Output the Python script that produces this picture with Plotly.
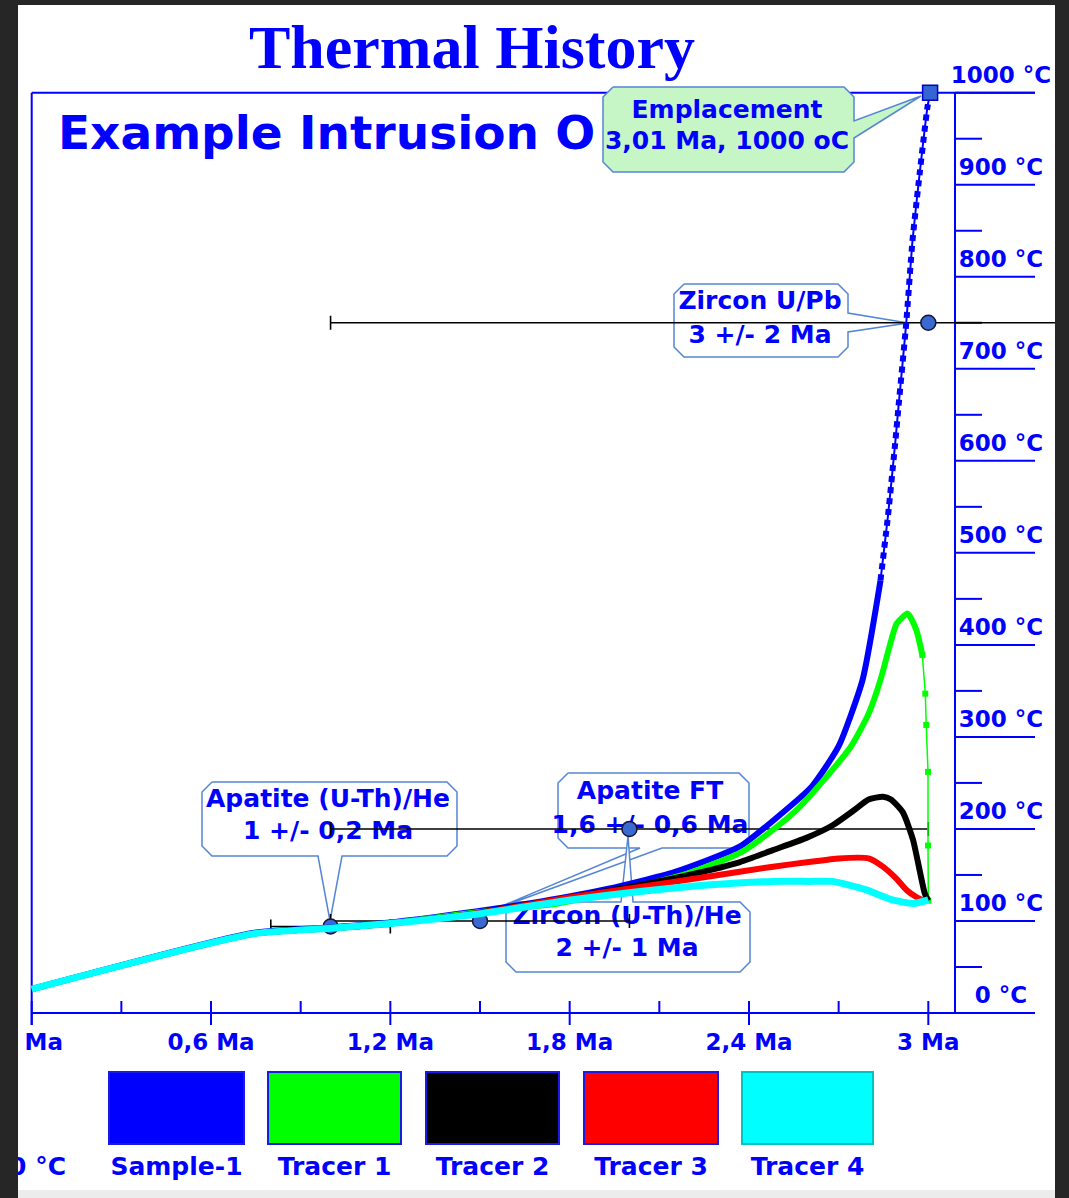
import plotly.graph_objects as go

# ---------------- data ----------------
blue_t = [0.00, 0.74, 1.00, 1.19, 1.48, 1.70, 1.93, 2.15, 2.37, 2.51, 2.61, 2.70, 2.78, 2.84,
          2.865, 2.89, 2.90, 2.926, 2.947, 2.971, 2.997, 3.006]
blue_T = [26, 87, 93, 98, 110, 121, 135, 153, 181, 217, 246, 290, 362, 470,
          540, 622, 658, 749, 839, 912, 984, 1000]

green_t = [0.00, 0.74, 1.00, 1.19, 1.48, 1.76, 1.98, 2.20, 2.37, 2.48, 2.57, 2.65, 2.74, 2.80,
           2.84, 2.87, 2.894, 2.931, 2.96, 2.98, 2.99, 2.993, 2.999, 2.999, 3.00]
green_T = [26, 86, 92, 97, 109, 119, 134, 152, 174, 199, 224, 253, 289, 325,
           362, 398, 423, 434, 416, 389, 347, 313, 262, 182, 122]

black_t = [0.00, 0.74, 1.00, 1.19, 1.48, 1.59, 1.81, 2.035, 2.20, 2.37, 2.48, 2.59, 2.68, 2.75,
           2.80, 2.848, 2.875, 2.915, 2.949, 2.971, 2.988, 3.00]
black_T = [26, 86, 92, 97, 108, 114, 126, 139, 150, 164, 177, 190, 204, 220,
           232, 235, 232, 218, 188, 155, 130, 122]

red_t = [0.00, 0.74, 1.00, 1.19, 1.48, 1.81, 2.035, 2.26, 2.48, 2.60, 2.70, 2.80, 2.848,
         2.893, 2.926, 2.96, 2.99]
red_T = [26, 86, 92, 97, 108, 126, 137, 148, 159, 164, 168, 168, 159,
         146, 134, 126, 121]

cyan_t = [0.00, 0.74, 1.00, 1.19, 1.48, 1.81, 2.035, 2.26, 2.48, 2.60, 2.68, 2.79, 2.88, 2.95, 3.00]
cyan_T = [26, 86, 92, 97, 107, 123, 132, 139, 143, 143, 143, 134, 123, 119, 123]

# thermochronology constraints: Zircon U/Pb, Apatite (U-Th)/He, Apatite FT, Zircon (U-Th)/He
constraint_age = [3.0, 1.0, 1.5, 2.0]
constraint_err = [2.0, 0.2, 0.5, 1.0]
constraint_T = [750, 94, 100, 200]

emplacement_t = [3.006]
emplacement_T = [1000]

x_major = [0.0, 0.6, 1.2, 1.8, 2.4, 3.0]
x_major_labels = ["0 Ma", "0,6 Ma", "1,2 Ma", "1,8 Ma", "2,4 Ma", "3 Ma"]
x_minor = [0.3, 0.9, 1.5, 2.1, 2.7]

y_major = [0, 100, 200, 300, 400, 500, 600, 700, 800, 900, 1000]
y_major_labels = ["0 °C", "100 °C", "200 °C", "300 °C", "400 °C", "500 °C",
                  "600 °C", "700 °C", "800 °C", "900 °C", "1000 °C"]
y_minor = [50, 150, 250, 350, 450, 550, 650, 750, 850, 950]

legend_names = ["Sample-1", "Tracer 1", "Tracer 2", "Tracer 3", "Tracer 4"]
legend_colors = ["#0000ff", "#00ff00", "#000000", "#ff0000", "#00ffff"]

# ---------------- geometry (pixel layout) ----------------
W, H = 1069, 1198
ML, MR, MT, MB = 18, 14, 5, 8
PX0, PX_PER_MA = 31.7, 298.87      # pixel of 0 Ma, pixels per Ma
PY0, PY_PER_C = 1013.0, 0.9203     # pixel of 0 °C, pixels per °C


def X(px):
    return (px - PX0) / PX_PER_MA


def Y(py):
    return (PY0 - py) / PY_PER_C


BLUE = "#0000ff"
TXT = "#0000ff"
BORDER = "#5585d5"
FONT = "DejaVu Sans"

fig = go.Figure()


def text_trace(xs, ys, texts, size, pos="middle center", family=FONT, weight="bold", color=TXT):
    fig.add_trace(go.Scatter(
        x=xs, y=ys, text=texts, mode="text", textposition=pos,
        textfont=dict(family=family, size=size, color=color, weight=weight),
        hoverinfo="skip", showlegend=False, cliponaxis=True))


def callout(L, T, R, B, side, b0, b1, tip, fill, c=10):
    pts = [(L + c, T)]
    if side == "top":
        pts += [(b0, T), tip, (b1, T)]
    pts += [(R - c, T), (R, T + c)]
    if side == "right":
        pts += [(R, b0), tip, (R, b1)]
    pts += [(R, B - c), (R - c, B)]
    if side == "bottom":
        pts += [(b1, B), tip, (b0, B)]
    pts += [(L + c, B), (L, B - c), (L, T + c), (L + c, T)]
    fig.add_trace(go.Scatter(
        x=[X(p[0]) for p in pts], y=[Y(p[1]) for p in pts], mode="lines",
        fill="toself", fillcolor=fill, line=dict(color=BORDER, width=1.5),
        hoverinfo="skip", showlegend=False))


# title and big subtitle (under the callouts)
text_trace([X(472)], [Y(52)], ["Thermal History"], 62, family="Liberation Serif", weight="bold")
text_trace([X(58)], [Y(137)], ["Example Intrusion O"], 47, pos="middle right")

# callout boxes
callout(603, 87, 854, 172, "right", 121, 138, (921, 96), "#c6f6c6")
callout(674, 284, 848, 357, "right", 313, 332, (908, 323), "white")
callout(202, 782, 457, 856, "bottom", 318, 342, (330, 921), "white")
callout(558, 773, 749, 848, "bottom", 640, 662, (490, 911), "white")
callout(506, 902, 750, 972, "top", 621, 633, (628, 836), "white")

# callout texts
cx = [727, 727, 760, 760, 328, 328, 650, 650, 627, 627]
cy = [112, 143, 303, 337, 801, 833, 793, 827, 918, 950]
ctexts = ["Emplacement", "3,01 Ma, 1000 oC", "Zircon U/Pb", "3 +/- 2 Ma",
          "Apatite (U-Th)/He", "1 +/- 0,2 Ma", "Apatite FT", "1,6 +/- 0,6 Ma",
          "Zircon (U-Th)/He", "2 +/- 1 Ma"]
text_trace([X(v) for v in cx], [Y(v) for v in cy], ctexts, 25)

# axis labels
text_trace(x_major, [Y(1044)] * len(x_major), x_major_labels, 23)
text_trace([X(1001)] * len(y_major), [v + 15.5 / PY_PER_C for v in y_major], y_major_labels, 23)

# legend
sq_x0 = [109, 268, 426, 584, 742]
sq_x1 = [244, 401, 559, 718, 873]
text_trace([X((a + b) / 2) for a, b in zip(sq_x0, sq_x1)], [Y(1169)] * 5, legend_names, 25)
text_trace([X(66)], [Y(1169)], ["0 °C"], 25, pos="middle left")

# constraint error bars and dots
fig.add_trace(go.Scatter(
    x=constraint_age, y=constraint_T, mode="markers",
    marker=dict(size=15, color="#3a6ad0", line=dict(color="#15153a", width=1.5)),
    error_x=dict(type="data", array=constraint_err, symmetric=True,
                 color="#000000", thickness=1.6, width=7),
    hoverinfo="skip", showlegend=False, cliponaxis=True))

SM = 0.55
BLUE_SPLIT = 13
GREEN_SPLIT = 19

# blue
fig.add_trace(go.Scatter(x=blue_t[:BLUE_SPLIT + 1], y=blue_T[:BLUE_SPLIT + 1], mode="lines",
                         line=dict(color=BLUE, width=6, shape="spline", smoothing=SM),
                         hoverinfo="skip", showlegend=False))
fig.add_trace(go.Scatter(x=blue_t[BLUE_SPLIT:], y=blue_T[BLUE_SPLIT:], mode="lines",
                         line=dict(color=BLUE, width=2, shape="spline", smoothing=SM),
                         hoverinfo="skip", showlegend=False))
fig.add_trace(go.Scatter(x=blue_t[BLUE_SPLIT:], y=blue_T[BLUE_SPLIT:], mode="lines",
                         line=dict(color=BLUE, width=6, shape="spline", smoothing=SM, dash="6px,5px"),
                         hoverinfo="skip", showlegend=False))
# green
fig.add_trace(go.Scatter(x=green_t[:GREEN_SPLIT + 1], y=green_T[:GREEN_SPLIT + 1], mode="lines",
                         line=dict(color="#00ff00", width=6, shape="spline", smoothing=SM),
                         hoverinfo="skip", showlegend=False))
fig.add_trace(go.Scatter(x=green_t[GREEN_SPLIT:], y=green_T[GREEN_SPLIT:], mode="lines+markers",
                         line=dict(color="#00ff00", width=1.5),
                         marker=dict(symbol="square", size=6, color="#00ff00"),
                         hoverinfo="skip", showlegend=False))
# black, red, cyan
for tt, TT, col, w in [(black_t, black_T, "#000000", 6), (red_t, red_T, "#ff0000", 6),
                       (cyan_t, cyan_T, "#00ffff", 7)]:
    fig.add_trace(go.Scatter(x=tt, y=TT, mode="lines",
                             line=dict(color=col, width=w, shape="spline", smoothing=SM),
                             hoverinfo="skip", showlegend=False))

# emplacement marker
fig.add_trace(go.Scatter(x=emplacement_t, y=emplacement_T, mode="markers",
                         marker=dict(symbol="square", size=15, color="#3565d2",
                                     line=dict(color="#0000c8", width=1.5)),
                         hoverinfo="skip", showlegend=False, cliponaxis=False))

# ---------------- frame, axes, ticks (drawn below traces) ----------------
shapes = []


def seg(x0, y0, x1, y1, color=BLUE, width=2):
    shapes.append(dict(type="line", xref="x", yref="y", x0=x0, y0=y0, x1=x1, y1=y1,
                       line=dict(color=color, width=width), layer="below"))


x_right_axis = X(955)
x_long = X(1035)
x_short = X(982)
seg(0, Y(PY0 + 12), 0, 1000)              # left frame
seg(0, 1000, x_long, 1000)                # top frame
seg(0, 0, x_long, 0)                      # bottom axis
seg(x_right_axis, 0, x_right_axis, 1000)  # right temperature axis
for v in x_major:
    seg(v, Y(PY0 + 12), v, Y(PY0 - 12))
for v in x_minor:
    seg(v, 0, v, Y(PY0 - 12))
for v in y_major:
    seg(x_right_axis, v, x_long, v)
for v in y_minor:
    seg(x_right_axis, v, x_short, v)

# legend swatches
for a, b, col in zip(sq_x0, sq_x1, legend_colors):
    edge = "#00c4c4" if col == "#00ffff" else "#1a1ae6"
    shapes.append(dict(type="rect", xref="x", yref="y", x0=X(a), x1=X(b), y0=Y(1144), y1=Y(1072),
                       fillcolor=col, line=dict(color=edge, width=2), layer="below"))

# bottom grey strip of the window
shapes.append(dict(type="rect", xref="paper", yref="paper", x0=0, x1=1,
                   y0=-MB / (H - MT - MB), y1=0, fillcolor="#ececec", line=dict(width=0),
                   layer="below"))

fig.update_layout(
    width=W, height=H,
    margin=dict(l=ML, r=MR, t=MT, b=MB, pad=0),
    paper_bgcolor="#262626", plot_bgcolor="#ffffff",
    shapes=shapes, showlegend=False,
    xaxis=dict(range=[X(ML), X(W - MR)], visible=False, fixedrange=True),
    yaxis=dict(range=[Y(H - MB), Y(MT)], visible=False, fixedrange=True),
)

fig.write_html("out.html", config={"displayModeBar": False},
               post_script="document.body.style.margin='0px';document.body.style.overflow='hidden';")
